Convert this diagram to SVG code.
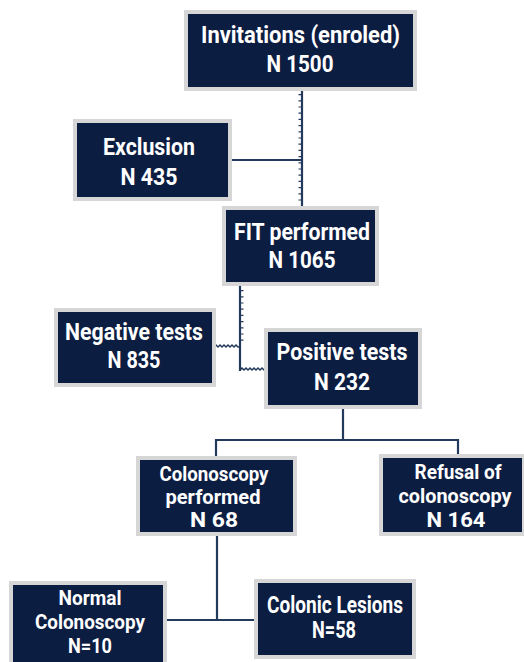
<svg xmlns="http://www.w3.org/2000/svg" width="524" height="662" viewBox="0 0 524 662">
<style>
.box{fill:#0c1d42;stroke:#d6d6d6;stroke-width:4}
.t{font-family:Roboto,"Liberation Sans",sans-serif;font-weight:bold;font-size:23px;fill:#ffffff;text-anchor:middle}
.s{font-size:20px}
.ln{stroke:#243a5c;stroke-width:2.2;fill:none}
.tk{stroke:#243a5c;stroke-width:3;fill:none;stroke-dasharray:1.2 5}
.wv{stroke:#243a5c;stroke-width:1.5;fill:none}
</style>
<rect width="524" height="662" fill="#ffffff"/>
<g id="connectors">
<line class="ln" x1="302" y1="91" x2="302" y2="208"/>
<line class="tk" x1="300" y1="94" x2="300" y2="204"/>
<line class="ln" x1="230" y1="160" x2="302" y2="160"/>
<line class="ln" x1="240" y1="285" x2="240" y2="371"/>
<line class="tk" x1="242" y1="290" x2="242" y2="345"/>
<path class="wv" d="M240 370 l2 -2 l2 2 l2 -2 l2 2 l2 -2 l2 2 l2 -2 l2 2 l2 -2 l2 2 l2 -2 l2 2 l2 -2 l2 2 h2"/>
<path class="wv" d="M214 347 l2 -2 l2 2 l2 -2 l2 2 l2 -2 l2 2 l2 -2 l2 2 l2 -2 l2 2 l2 -2 l2 2 h2"/>
<line class="ln" x1="343" y1="407" x2="343" y2="440"/>
<line class="ln" x1="216" y1="440" x2="459" y2="440"/>
<line class="ln" x1="216" y1="439" x2="216" y2="458"/>
<line class="ln" x1="458" y1="439" x2="458" y2="456"/>
<line class="ln" x1="217" y1="534" x2="217" y2="621"/>
<line class="ln" x1="165" y1="620" x2="256" y2="620"/>
</g>
<g id="invitations">
<rect class="box" x="186" y="12" width="229" height="77"/>
<text class="t" x="300.5" y="43" font-size="24" textLength="199" lengthAdjust="spacingAndGlyphs">Invitations (enroled)</text>
<text class="t" x="300" y="72" font-size="24" textLength="67" lengthAdjust="spacingAndGlyphs">N 1500</text>
</g>
<g id="exclusion">
<rect class="box" x="75" y="121" width="155" height="78"/>
<text class="t" x="149" y="155" textLength="92" lengthAdjust="spacingAndGlyphs">Exclusion</text>
<text class="t" x="149" y="185" textLength="57" lengthAdjust="spacingAndGlyphs">N 435</text>
</g>
<g id="fit">
<rect class="box" x="224" y="208" width="153" height="76"/>
<text class="t" x="302" y="240" textLength="136" lengthAdjust="spacingAndGlyphs">FIT performed</text>
<text class="t" x="302" y="268" textLength="67" lengthAdjust="spacingAndGlyphs">N 1065</text>
</g>
<g id="negative">
<rect class="box" x="56" y="310" width="158" height="75"/>
<text class="t" x="134" y="340" textLength="138" lengthAdjust="spacingAndGlyphs">Negative tests</text>
<text class="t" x="134" y="368" textLength="53" lengthAdjust="spacingAndGlyphs">N 835</text>
</g>
<g id="positive">
<rect class="box" x="266" y="330" width="154" height="77"/>
<text class="t" x="342" y="360" textLength="131" lengthAdjust="spacingAndGlyphs">Positive tests</text>
<text class="t" x="342" y="390" textLength="56" lengthAdjust="spacingAndGlyphs">N 232</text>
</g>
<g id="colonoscopy">
<rect class="box" x="138" y="458" width="157" height="76"/>
<text class="t s" x="214" y="481" textLength="109" lengthAdjust="spacingAndGlyphs">Colonoscopy</text>
<text class="t s" x="213" y="504" textLength="95" lengthAdjust="spacingAndGlyphs">performed</text>
<text class="t s" x="214" y="527" textLength="48" lengthAdjust="spacingAndGlyphs">N 68</text>
</g>
<g id="refusal">
<rect class="box" x="381" y="456" width="143" height="78"/>
<text class="t s" x="458" y="479" textLength="87" lengthAdjust="spacingAndGlyphs">Refusal of</text>
<text class="t s" x="455" y="503" textLength="113" lengthAdjust="spacingAndGlyphs">colonoscopy</text>
<text class="t s" x="456" y="527" textLength="59" lengthAdjust="spacingAndGlyphs">N 164</text>
</g>
<g id="normal">
<rect class="box" x="11" y="583" width="154" height="85"/>
<text class="t s" x="90" y="605" textLength="63" lengthAdjust="spacingAndGlyphs">Normal</text>
<text class="t s" x="90" y="629" textLength="110" lengthAdjust="spacingAndGlyphs">Colonoscopy</text>
<text class="t s" x="90" y="653" textLength="44" lengthAdjust="spacingAndGlyphs">N=10</text>
</g>
<g id="lesions">
<rect class="box" x="256" y="581" width="158" height="76"/>
<text class="t" x="335" y="613" textLength="136" lengthAdjust="spacingAndGlyphs">Colonic Lesions</text>
<text class="t" x="334" y="638" textLength="44" lengthAdjust="spacingAndGlyphs">N=58</text>
</g>
</svg>
